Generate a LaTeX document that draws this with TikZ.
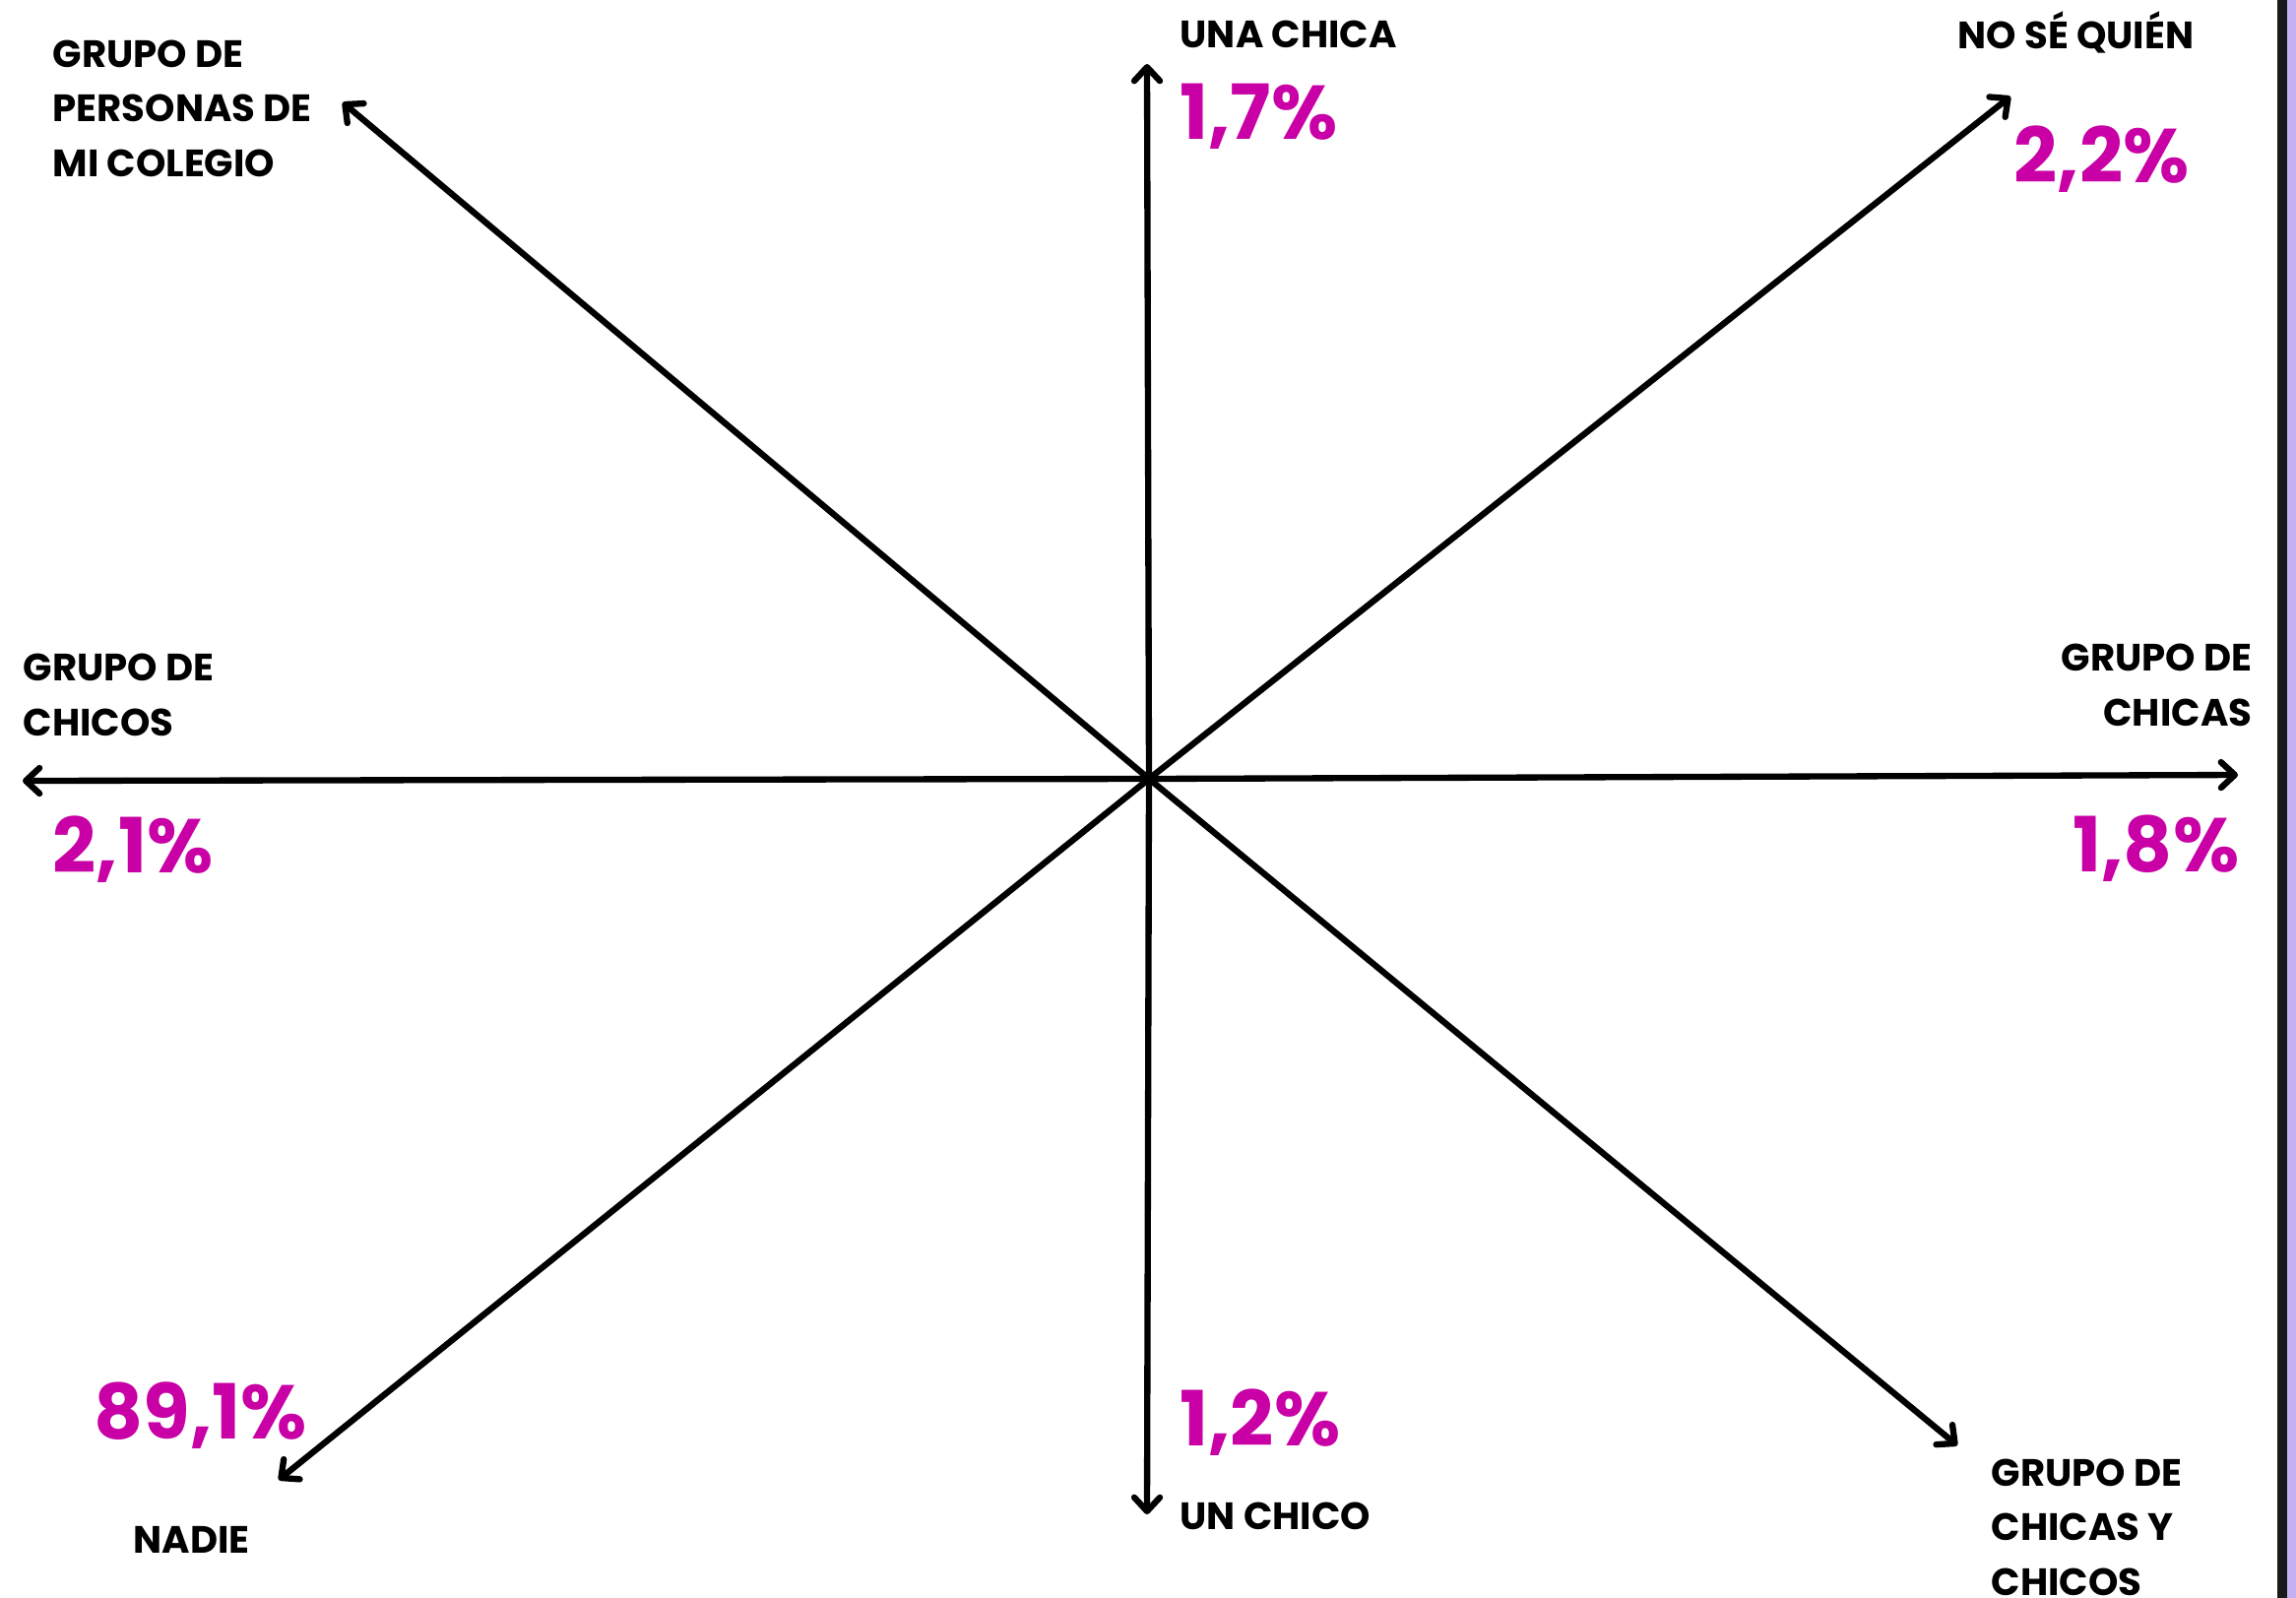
\documentclass[tikz,border=0pt]{standalone}
\usepackage{fontspec}
\setmainfont{Poppins}
\usetikzlibrary{arrows.meta}
\definecolor{rosa}{RGB}{200,0,165}
\definecolor{lavanda}{RGB}{196,176,242}
\tikzset{
  etiqueta/.style   = {font=\fontsize{11}{15.7}\selectfont\bfseries, inner sep=0pt,
                       anchor=base west, align=left},
  porcentaje/.style = {font=\fontsize{22}{26}\selectfont\bfseries, text=rosa,
                       inner sep=0pt, anchor=base west},
  flecha/.style     = {-{Straight Barb[length=1.4mm,width=2.6mm,round]}, line width=1.8pt}
}

\begin{document}
\begin{tikzpicture}[x=0.1mm, y=-0.1mm]
        \useasboundingbox (0,0) rectangle (2332,1623);
        % borde derecho
        \fill[black!90] (2313,0) rectangle (2323,1623);
        \fill[lavanda] (2323,0) rectangle (2332,1623);

        \coordinate (o) at (1167,791);
        \coordinate (arriba) at (1165,65);
        \coordinate (abajo) at (1165,1538);
        \coordinate (izq) at (23,793);
        \coordinate (der) at (2273,787);
        \coordinate (arribaizq) at (348,104);
        \coordinate (arribader) at (2042,98);
        \coordinate (abajoizq) at (283,1503);
        \coordinate (abajoder) at (1988,1468);

        % textos (base = ultima linea)
        \node[etiqueta] (una) at (1198,48) {UNA CHICA};
        \node[porcentaje] (puna) at (1198,141) {1,7\%};
        \node[etiqueta] (nose) at (1988,49) {NO SÉ QUIÉN};
        \node[porcentaje] (pnose) at (2045,185) {2,2\%};
        \node[etiqueta] (colegio) at (53,179) {GRUPO DE\\PERSONAS DE\\MI COLEGIO};
        \node[etiqueta] (chicos) at (23,747) {GRUPO DE\\CHICOS};
        \node[porcentaje] (pchicos) at (53,886) {2,1\%};
        \node[etiqueta, anchor=base east, align=right] (chicas) at (2288,737) {GRUPO DE\\CHICAS};
        \node[porcentaje] (pchicas) at (2105,885) {1,8\%};
        \node[porcentaje] (pnadie) at (95,1461) {89,1\%};
        \node[etiqueta] (nadie) at (135,1577) {NADIE};
        \node[porcentaje] (pchico) at (1198,1468) {1,2\%};
        \node[etiqueta] (chico) at (1198,1553) {UN CHICO};
        \node[etiqueta] (mixto) at (2022,1620) {GRUPO DE\\CHICAS Y\\CHICOS};

        \draw[flecha] (o) -- (arriba);
        \draw[flecha] (o) -- (abajo);
        \draw[flecha] (o) -- (izq);
        \draw[flecha] (o) -- (der);
        \draw[flecha] (o) -- (arribaizq);
        \draw[flecha] (o) -- (arribader);
        \draw[flecha] (o) -- (abajoizq);
        \draw[flecha] (o) -- (abajoder);
    \end{tikzpicture}
\end{document}
